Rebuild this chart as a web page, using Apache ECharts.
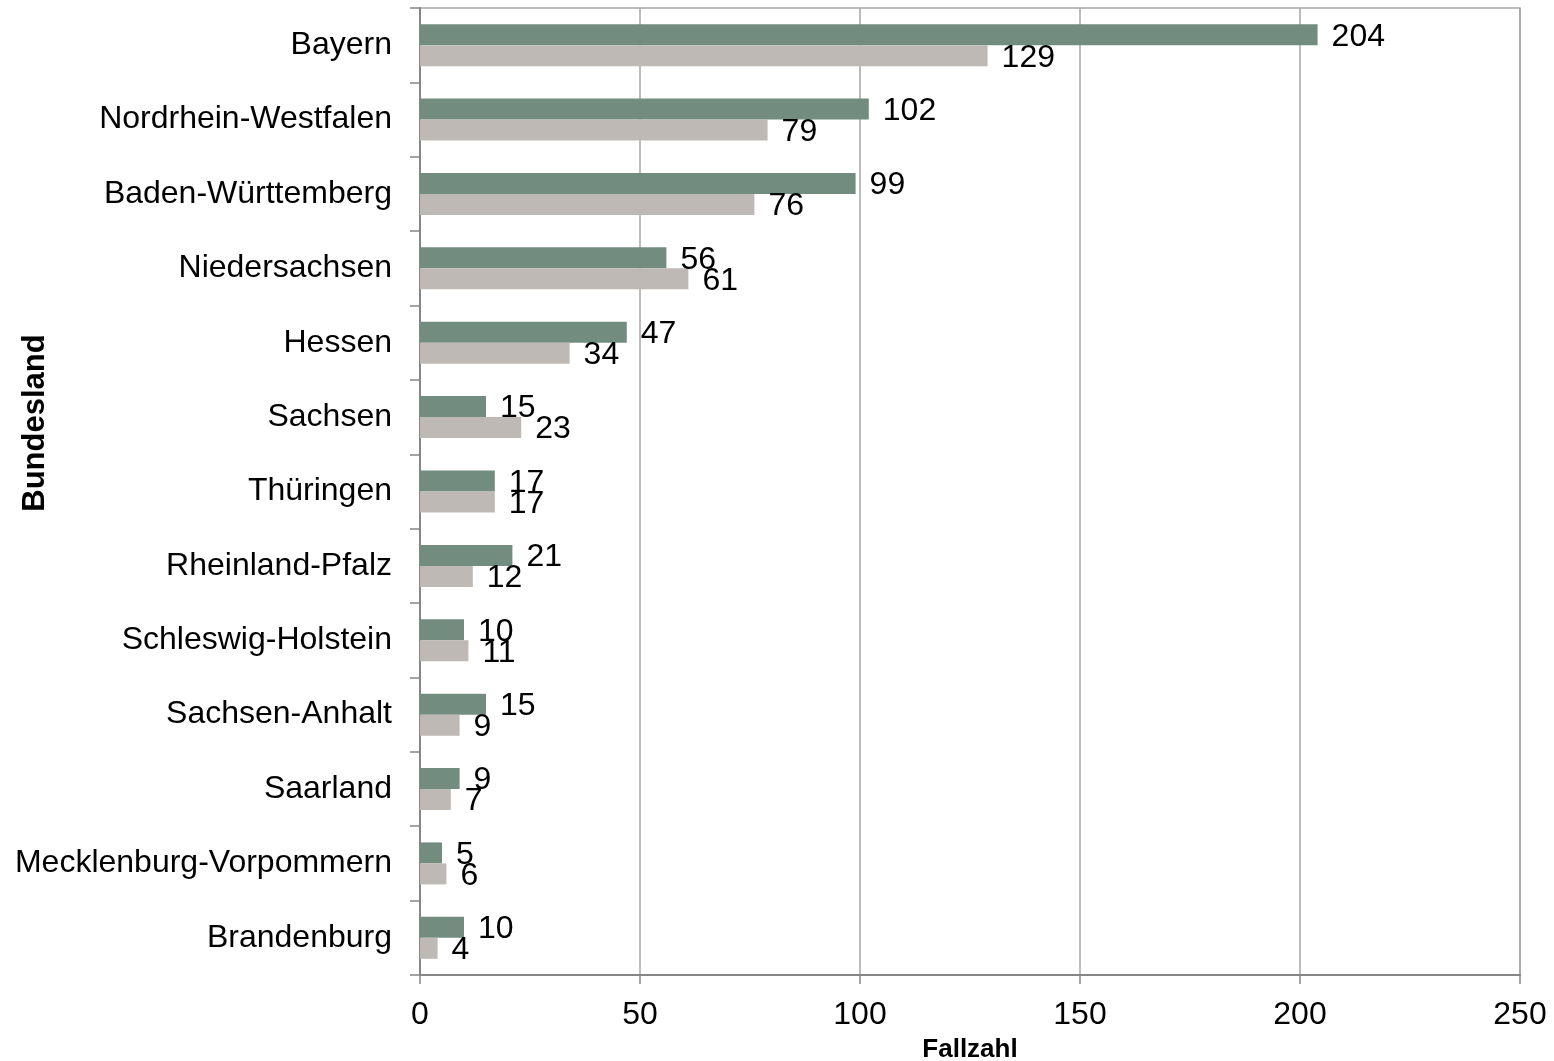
<!DOCTYPE html>
<html>
<head>
<meta charset="utf-8">
<script src="https://cdn.jsdelivr.net/npm/echarts@6/dist/echarts.min.js"></script>
<style>
  html, body { margin: 0; padding: 0; background: #fff; }
  #chart { width: 1554px; height: 1061px; }
</style>
</head>
<body>
<div id="chart"></div>
<script>
// Bundesländer, von oben nach unten
const laender = [
  "Bayern", "Nordrhein-Westfalen", "Baden-Württemberg", "Niedersachsen",
  "Hessen", "Sachsen", "Thüringen", "Rheinland-Pfalz", "Schleswig-Holstein",
  "Sachsen-Anhalt", "Saarland", "Mecklenburg-Vorpommern", "Brandenburg"
];
// grüne Balken (oben in jeder Gruppe)
const fallzahlGruen = [204, 102, 99, 56, 47, 15, 17, 21, 10, 15, 9, 5, 10];
// graue Balken (unten)
const fallzahlGrau = [129, 79, 76, 61, 34, 23, 17, 12, 11, 9, 7, 6, 4];
const xTicks = [0, 50, 100, 150, 200, 250];

const font = "Liberation Sans, Arial, sans-serif";
const chart = echarts.init(document.getElementById("chart"));

const labelStyle = {
  show: true,
  position: "right",
  distance: 14,
  offset: [0, 2],
  fontSize: 32,
  color: "#000",
  fontFamily: font,
};

chart.setOption({
  animation: false,
  grid: {
    left: 420,
    right: 34,
    top: 8,
    bottom: 86,
    outerBoundsMode: "none",
    containLabel: false,
    show: true,
    borderColor: "#a6a6a6",
    borderWidth: 1.5,
  },
  xAxis: {
    type: "value",
    min: xTicks[0],
    max: xTicks[xTicks.length - 1],
    interval: 50,
    name: "Fallzahl",
    nameLocation: "middle",
    nameGap: 62,
    nameTextStyle: { fontSize: 26, fontWeight: "bold", color: "#000", fontFamily: font },
    axisLine: { show: true, lineStyle: { color: "#868686", width: 2 } },
    axisTick: { show: true, length: 9, lineStyle: { color: "#868686", width: 1.5 } },
    axisLabel: { fontSize: 32, color: "#000", margin: 24, fontFamily: font },
    splitLine: { show: true, lineStyle: { color: "#a6a6a6", width: 1.5 } },
  },
  yAxis: {
    type: "category",
    data: laender,
    inverse: true,
    axisLine: { show: true, lineStyle: { color: "#868686", width: 2 } },
    axisTick: { show: true, length: 10, lineStyle: { color: "#868686", width: 1.5 } },
    axisLabel: { fontSize: 32, color: "#000", margin: 28, fontFamily: font, padding: [4, 0, 0, 0] },
    splitLine: { show: false },
  },
  graphic: [{
    type: "text",
    x: 35,
    y: 423,
    rotation: Math.PI / 2,
    style: {
      text: "Bundesland",
      fontSize: 31,
      fontWeight: "bold",
      fontFamily: font,
      fill: "#000",
      align: "center",
      verticalAlign: "middle",
    },
  }],
  series: [
    {
      type: "bar",
      data: fallzahlGruen,
      barWidth: 21,
      barGap: "0%",
      itemStyle: { color: "#728c80" },
      label: labelStyle,
    },
    {
      type: "bar",
      data: fallzahlGrau,
      barWidth: 21,
      barGap: "0%",
      itemStyle: { color: "#bfb9b5" },
      label: labelStyle,
    },
  ],
});
</script>
</body>
</html>
